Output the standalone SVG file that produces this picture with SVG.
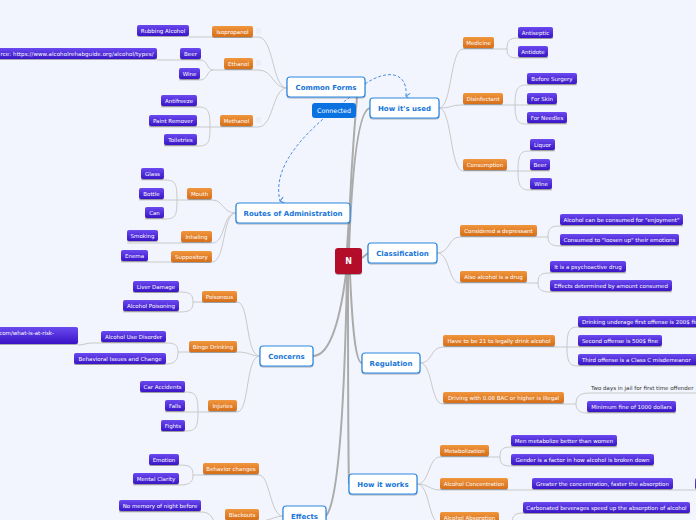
<svg xmlns="http://www.w3.org/2000/svg" width="696" height="520" viewBox="0 0 696 520">
<defs>
<linearGradient id="gp" x1="0" y1="0" x2="0" y2="1"><stop offset="0" stop-color="#6a4af0"/><stop offset="1" stop-color="#3a14c6"/></linearGradient>
<linearGradient id="go" x1="0" y1="0" x2="0" y2="1"><stop offset="0" stop-color="#f0963e"/><stop offset="1" stop-color="#d66e1a"/></linearGradient>
<filter id="sh" x="-20%" y="-30%" width="140%" height="180%"><feDropShadow dx="0" dy="1" stdDeviation="0.6" flood-color="#000" flood-opacity="0.3"/></filter>
<marker id="arr" markerWidth="8" markerHeight="8" refX="4" refY="6" orient="auto" markerUnits="userSpaceOnUse"><path d="M1,2 L4,6 L7,2" fill="none" stroke="#4a8fe0" stroke-width="1"/></marker>
</defs>
<style>
.bg{fill:#f2f5fd}
.m{fill:#fff;stroke:#2a88e0;stroke-width:1.2;filter:url(#sh)}
.mt{font-family:"DejaVu Sans",Verdana,sans-serif;font-weight:bold;font-size:7px;fill:#1675d8;text-anchor:middle}
.o{fill:url(#go);filter:url(#sh)}
.p{fill:url(#gp);filter:url(#sh)}
.t{font-family:"DejaVu Sans",Verdana,sans-serif;font-size:5.5px;fill:#fff;text-anchor:middle}
.d{font-family:"DejaVu Sans",Verdana,sans-serif;font-size:5.5px;fill:#333}
.c{fill:none;stroke:#c9c9c9;stroke-width:1}
.r{fill:none;stroke:#ababab;stroke-width:2}
.dash{fill:none;stroke:#4a8fe0;stroke-width:1;stroke-dasharray:3,2}
.ic{stroke:#dfe3ee;stroke-width:0.8}
</style>
<rect class="bg" x="0" y="0" width="696" height="520"/>

<g id="connectors">
<path class="r" d="M348,249 C350,190 355,120 357,97"/>
<path class="r" d="M349,249 C352,170 358,110 370,108"/>
<path class="r" d="M347,249 C348,232 349,218 350,213"/>
<path class="r" d="M362,258 L368,253"/>
<path class="r" d="M346,274 C340,320 330,356 313,356"/>
<path class="r" d="M350,274 C352,320 355,363 362,363"/>
<path class="r" d="M348,274 C348,360 348,450 349,484"/>
<path class="r" d="M347,274 C345,380 340,500 326,516"/>

<path class="c" d="M287,88 C272,88 274,37 258,37 L189,37"/>
<path class="c" d="M287,88 C272,88 274,70 258,70 L213,70"/>
<path class="c" d="M213,70 C207,70 208,60 200,60 L157,60"/>
<path class="c" d="M213,70 C207,70 208,80 200,80 L179,80"/>
<path class="c" d="M287,88 C272,88 274,127 258,127 L149,127"/>
<path class="c" d="M210,127 C210,110 208,107 197,107 L161,107"/>
<path class="c" d="M210,127 C210,144 208,146 197,146 L164,146"/>

<path class="c" d="M236,213 C222,213 224,200 212,200 L139,200"/>
<path class="c" d="M177,200 C177,182 175,180 164,180 L141,180"/>
<path class="c" d="M177,200 C177,217 175,219 164,219 L145,219"/>
<path class="c" d="M236,213 C222,213 226,243 212,243 L127,243"/>
<path class="c" d="M236,213 C222,213 226,262 212,262 L121,262"/>

<path class="c" d="M260,356 C245,356 250,302 237,302 L193,302"/>
<path class="c" d="M193,302 C193,294 190,292 179,292 L133,292"/>
<path class="c" d="M193,302 C193,310 190,312 179,312 L123,312"/>
<path class="c" d="M260,356 C250,356 250,352 237,352 L178,352"/>
<path class="c" d="M178,352 C178,345 175,343 166,343 L92,343 C86,343 84,345 78,345"/>
<path class="c" d="M178,352 C178,360 175,364 166,364 L74,364"/>
<path class="c" d="M260,356 C245,356 250,412 237,412 L165,412"/>
<path class="c" d="M198,412 C198,394 195,392 185,392 L140,392"/>
<path class="c" d="M198,412 C198,429 195,431 185,431 L161,431"/>

<path class="c" d="M283,516 C270,516 270,475 259,475 L193,475"/>
<path class="c" d="M193,475 C193,467 190,465 179,465 L149,465"/>
<path class="c" d="M193,475 C193,482 190,485 179,485 L133,485"/>
<path class="c" d="M283,516 C275,516 270,521 259,521 L225,521"/>
<path class="c" d="M119,512 L201,512 C209,512 212,516 214,522"/>

<path class="c" d="M439,108 C452,108 450,49 463,49 L507,49"/>
<path class="c" d="M507,49 C507,40 510,38 518,38 L553,38"/>
<path class="c" d="M507,49 C507,56 510,58 518,58 L548,58"/>
<path class="c" d="M439,108 C452,108 450,105 463,105 L557,105"/>
<path class="c" d="M515,105 C515,88 518,85 527,85 L577,85"/>
<path class="c" d="M515,105 C515,121 518,124 527,124 L567,124"/>
<path class="c" d="M439,108 C452,108 450,171 463,171 L550,171"/>
<path class="c" d="M518,171 C518,153 521,151 530,151 L555,151"/>
<path class="c" d="M518,171 C518,187 521,190 530,190 L552,190"/>

<path class="c" d="M437,253 C450,253 448,237 460,237 L548,237"/>
<path class="c" d="M548,237 C548,228 551,226 560,226 L683,226"/>
<path class="c" d="M548,237 C548,243 551,246 560,246 L679,246"/>
<path class="c" d="M437,253 C450,253 448,283 460,283 L538,283"/>
<path class="c" d="M538,283 C538,275 541,273 550,273 L626,273"/>
<path class="c" d="M538,283 C538,289 541,292 550,292 L672,292"/>

<path class="c" d="M420,363 C433,363 430,347 443,347 L662,347"/>
<path class="c" d="M567,347 C567,330 570,327 578,327 L696,327"/>
<path class="c" d="M567,347 C567,363 570,366 578,366 L696,366"/>
<path class="c" d="M420,363 C433,363 430,404 443,404 L576,404"/>
<path class="c" d="M576,404 C576,396 580,393 590,393 L696,393"/>
<path class="c" d="M576,404 C576,410 580,413 587,413 L676,413"/>

<path class="c" d="M417,484 C430,484 428,457 440,457 L500,457"/>
<path class="c" d="M500,457 C500,449 503,447 511,447 L617,447"/>
<path class="c" d="M500,457 C500,464 503,466 511,466 L654,466"/>
<path class="c" d="M417,484 C428,484 430,490 440,490 L696,490"/>
<path class="c" d="M417,484 C430,484 428,523 440,523 L512,523"/>
<path class="c" d="M512,523 C512,516 515,513 523,513 L690,513"/>

<path class="dash" d="M365,84 C385,70 408,70 406,96" marker-end="url(#arr)"/>
<path class="dash" d="M350,97 C318,122 270,160 280,201" marker-end="url(#arr)"/>
</g>

<g id="n-root"><rect x="335" y="248" width="27" height="26" rx="3" fill="#b40f2c" filter="url(#sh)"/><text x="348.5" y="264" font-family="DejaVu Sans,sans-serif" font-weight="bold" font-size="8" fill="#fff" text-anchor="middle">N</text></g>

<g id="n-connected"><rect x="312" y="103" width="44" height="15" rx="3" fill="#0a72e0"/><text x="334" y="112.8" font-family="DejaVu Sans,sans-serif" font-size="6.3" fill="#fff" text-anchor="middle">Connected</text></g>

<g id="n-cf"><rect class="m" x="287" y="77" width="78" height="20" rx="3"/><text class="mt" x="326" y="89.5">Common Forms</text></g>
<g id="n-iso"><rect class="o" x="212" y="26" width="41" height="11" rx="2"/><text class="t" x="232.5" y="33.5">Isopropanol</text><path class="ic" d="M256,29h5M256,31h5M256,33h5"/></g>
<g id="n-eth"><rect class="o" x="224" y="58" width="29" height="11" rx="2"/><text class="t" x="238.5" y="65.5">Ethanol</text><path class="ic" d="M256,61h5M256,63h5M256,65h5"/></g>
<g id="n-meth"><rect class="o" x="220" y="115" width="33" height="11" rx="2"/><text class="t" x="236.5" y="122.5">Methanol</text><path class="ic" d="M256,118h5M256,120h5M256,122h5"/></g>
<g id="n-rub"><rect class="p" x="137" y="25" width="52" height="11" rx="2"/><text class="t" x="163" y="32.5">Rubbing Alcohol</text></g>
<g id="n-beer1"><rect class="p" x="180" y="48" width="21" height="11" rx="2"/><text class="t" x="190.5" y="55.5">Beer</text></g>
<g id="n-wine1"><rect class="p" x="179" y="68" width="21" height="11" rx="2"/><text class="t" x="189.5" y="75.5">Wine</text></g>
<g id="n-src1"><rect class="p" x="-30" y="48" width="187" height="11" rx="2"/><text class="t" x="0.5" y="55.5" textLength="153" style="text-anchor:start">rce: https://www.alcoholrehabguide.org/alcohol/types/</text></g>
<g id="n-anti"><rect class="p" x="161" y="95" width="36" height="11" rx="2"/><text class="t" x="179" y="102.5">Antifreeze</text></g>
<g id="n-paint"><rect class="p" x="149" y="115" width="48" height="11" rx="2"/><text class="t" x="173" y="122.5">Paint Remover</text></g>
<g id="n-toil"><rect class="p" x="164" y="134" width="33" height="11" rx="2"/><text class="t" x="180.5" y="141.5">Toiletries</text></g>

<g id="n-hu"><rect class="m" x="370" y="98" width="69" height="20" rx="3"/><text class="mt" x="404.5" y="110.5">How it's used</text></g>
<g id="n-med"><rect class="o" x="463" y="37" width="31" height="11" rx="2"/><text class="t" x="478.5" y="44.5">Medicine</text></g>
<g id="n-dis"><rect class="o" x="463" y="93" width="40" height="11" rx="2"/><text class="t" x="483" y="100.5">Disinfectant</text></g>
<g id="n-cons"><rect class="o" x="463" y="159" width="44" height="11" rx="2"/><text class="t" x="485" y="166.5">Consumption</text></g>
<g id="n-antis"><rect class="p" x="518" y="27" width="35" height="11" rx="2"/><text class="t" x="535.5" y="34.5">Antiseptic</text></g>
<g id="n-antid"><rect class="p" x="518" y="46" width="30" height="11" rx="2"/><text class="t" x="533" y="53.5">Antidote</text></g>
<g id="n-bs"><rect class="p" x="527" y="73" width="50" height="11" rx="2"/><text class="t" x="552" y="80.5">Before Surgery</text></g>
<g id="n-fs"><rect class="p" x="527" y="93" width="30" height="11" rx="2"/><text class="t" x="542" y="100.5">For Skin</text></g>
<g id="n-fn"><rect class="p" x="527" y="112" width="40" height="11" rx="2"/><text class="t" x="547" y="119.5">For Needles</text></g>
<g id="n-liq"><rect class="p" x="530" y="139" width="25" height="11" rx="2"/><text class="t" x="542.5" y="146.5">Liquor</text></g>
<g id="n-beer2"><rect class="p" x="530" y="159" width="20" height="11" rx="2"/><text class="t" x="540" y="166.5">Beer</text></g>
<g id="n-wine2"><rect class="p" x="530" y="178" width="22" height="11" rx="2"/><text class="t" x="541" y="185.5">Wine</text></g>

<g id="n-ra"><rect class="m" x="236" y="203" width="114" height="20" rx="3"/><text class="mt" x="293" y="215.5">Routes of Administration</text></g>
<g id="n-mouth"><rect class="o" x="187" y="188" width="25" height="11" rx="2"/><text class="t" x="199.5" y="195.5">Mouth</text></g>
<g id="n-inh"><rect class="o" x="181" y="231" width="31" height="11" rx="2"/><text class="t" x="196.5" y="238.5">Inhaling</text></g>
<g id="n-sup"><rect class="o" x="171" y="251" width="41" height="11" rx="2"/><text class="t" x="191.5" y="258.5">Suppository</text></g>
<g id="n-glass"><rect class="p" x="141" y="168" width="23" height="11" rx="2"/><text class="t" x="152.5" y="175.5">Glass</text></g>
<g id="n-bottle"><rect class="p" x="139" y="188" width="25" height="11" rx="2"/><text class="t" x="151.5" y="195.5">Bottle</text></g>
<g id="n-can"><rect class="p" x="145" y="207" width="19" height="11" rx="2"/><text class="t" x="154.5" y="214.5">Can</text></g>
<g id="n-smoke"><rect class="p" x="127" y="230" width="31" height="11" rx="2"/><text class="t" x="142.5" y="237.5">Smoking</text></g>
<g id="n-enema"><rect class="p" x="121" y="250" width="27" height="11" rx="2"/><text class="t" x="134.5" y="257.5">Enema</text></g>

<g id="n-cl"><rect class="m" x="368" y="243" width="69" height="20" rx="3"/><text class="mt" x="402.5" y="255.5">Classification</text></g>
<g id="n-dep"><rect class="o" x="460" y="225" width="77" height="11" rx="2"/><text class="t" x="498.5" y="232.5">Considered a depressant</text></g>
<g id="n-drug"><rect class="o" x="460" y="271" width="67" height="11" rx="2"/><text class="t" x="493.5" y="278.5">Also alcohol is a drug</text></g>
<g id="n-enj"><rect class="p" x="560" y="214" width="123" height="11" rx="2"/><text class="t" x="621.5" y="221.5">Alcohol can be consumed for "enjoyment"</text></g>
<g id="n-loose"><rect class="p" x="560" y="234" width="119" height="11" rx="2"/><text class="t" x="619.5" y="241.5">Consumed to "loosen up" their emotions</text></g>
<g id="n-psy"><rect class="p" x="550" y="261" width="76" height="11" rx="2"/><text class="t" x="588" y="268.5">It is a psychoactive drug</text></g>
<g id="n-effd"><rect class="p" x="550" y="280" width="122" height="11" rx="2"/><text class="t" x="611" y="287.5">Effects determined by amount consumed</text></g>

<g id="n-con"><rect class="m" x="260" y="346" width="53" height="20" rx="3"/><text class="mt" x="286.5" y="358.5">Concerns</text></g>
<g id="n-poi"><rect class="o" x="202" y="291" width="35" height="11" rx="2"/><text class="t" x="219.5" y="298.5">Poisonous</text></g>
<g id="n-binge"><rect class="o" x="189" y="341" width="48" height="11" rx="2"/><text class="t" x="213" y="348.5">Binge Drinking</text></g>
<g id="n-inj"><rect class="o" x="208" y="400" width="29" height="11" rx="2"/><text class="t" x="222.5" y="407.5">Injuries</text></g>
<g id="n-liver"><rect class="p" x="133" y="281" width="46" height="11" rx="2"/><text class="t" x="156" y="288.5">Liver Damage</text></g>
<g id="n-apois"><rect class="p" x="123" y="300" width="56" height="11" rx="2"/><text class="t" x="151" y="307.5">Alcohol Poisoning</text></g>
<g id="n-aud"><rect class="p" x="101" y="331" width="65" height="11" rx="2"/><text class="t" x="133.5" y="338.5">Alcohol Use Disorder</text></g>
<g id="n-beh"><rect class="p" x="74" y="353" width="92" height="11" rx="2"/><text class="t" x="120" y="360.5">Behavioral Issues and Change</text></g>
<g id="n-src2"><rect class="p" x="-20" y="327" width="98" height="17" rx="2"/><text class="t" x="54" y="334.5" style="text-anchor:end">com/what-is-at-risk-</text></g>
<g id="n-car"><rect class="p" x="140" y="381" width="45" height="11" rx="2"/><text class="t" x="162.5" y="388.5">Car Accidents</text></g>
<g id="n-falls"><rect class="p" x="165" y="400" width="20" height="11" rx="2"/><text class="t" x="175" y="407.5">Falls</text></g>
<g id="n-fights"><rect class="p" x="161" y="420" width="24" height="11" rx="2"/><text class="t" x="173" y="427.5">Fights</text></g>

<g id="n-reg"><rect class="m" x="362" y="353" width="58" height="20" rx="3"/><text class="mt" x="391" y="365.5">Regulation</text></g>
<g id="n-21"><rect class="o" x="443" y="335" width="112" height="11" rx="2"/><text class="t" x="499" y="342.5">Have to be 21 to legally drink alcohol</text></g>
<g id="n-drv"><rect class="o" x="443" y="392" width="121" height="11" rx="2"/><text class="t" x="503.5" y="399.5">Driving with 0.08 BAC or higher is illegal</text></g>
<g id="n-under"><rect class="p" x="578" y="316" width="140" height="11" rx="2"/><text class="t" x="582" y="323.5" style="text-anchor:start">Drinking underage first offense is 200$ fine</text></g>
<g id="n-second"><rect class="p" x="578" y="335" width="84" height="11" rx="2"/><text class="t" x="620" y="342.5">Second offense is 500$ fine</text></g>
<g id="n-third"><rect class="p" x="578" y="354" width="140" height="11" rx="2"/><text class="t" x="582" y="361.5" style="text-anchor:start">Third offense is a Class C misdemeanor</text></g>
<g id="n-twodays"><text class="d" x="591" y="390">Two days in jail for first time offender</text></g>
<g id="n-minfine"><rect class="p" x="587" y="401" width="89" height="11" rx="2"/><text class="t" x="631.5" y="408.5">Minimum fine of 1000 dollars</text></g>

<g id="n-hw"><rect class="m" x="349" y="474" width="68" height="20" rx="3"/><text class="mt" x="383" y="486.5">How it works</text></g>
<g id="n-metab"><rect class="o" x="440" y="445" width="49" height="11" rx="2"/><text class="t" x="464.5" y="452.5">Metabolization</text></g>
<g id="n-conc"><rect class="o" x="440" y="478" width="68" height="11" rx="2"/><text class="t" x="474" y="485.5">Alcohol Concentration</text></g>
<g id="n-abs"><rect class="o" x="440" y="512" width="59" height="11" rx="2"/><text class="t" x="469.5" y="519.5">Alcohol Absorption</text></g>
<g id="n-men"><rect class="p" x="511" y="435" width="106" height="11" rx="2"/><text class="t" x="564" y="442.5">Men metabolize better than women</text></g>
<g id="n-gender"><rect class="p" x="511" y="454" width="143" height="11" rx="2"/><text class="t" x="582.5" y="461.5">Gender is a factor in how alcohol is broken down</text></g>
<g id="n-greater"><rect class="p" x="532" y="478" width="141" height="11" rx="2"/><text class="t" x="602.5" y="485.5">Greater the concentration, faster the absorption</text></g>
<g id="n-edge"><rect class="p" x="695" y="478" width="30" height="11" rx="2"/></g>
<g id="n-carb"><rect class="p" x="523" y="502" width="167" height="11" rx="2"/><text class="t" x="606.5" y="509.5">Carbonated beverages speed up the absorption of alcohol</text></g>

<g id="n-effects"><rect class="m" x="283" y="506" width="43" height="20" rx="3"/><text class="mt" x="304.5" y="518.5">Effects</text></g>
<g id="n-behc"><rect class="o" x="203" y="463" width="56" height="11" rx="2"/><text class="t" x="231" y="470.5">Behavior changes</text></g>
<g id="n-black"><rect class="o" x="225" y="509" width="34" height="11" rx="2"/><text class="t" x="242" y="516.5">Blackouts</text></g>
<g id="n-emo"><rect class="p" x="149" y="454" width="30" height="11" rx="2"/><text class="t" x="164" y="461.5">Emotion</text></g>
<g id="n-mc"><rect class="p" x="133" y="473" width="46" height="11" rx="2"/><text class="t" x="156" y="480.5">Mental Clarity</text></g>
<g id="n-nomem"><rect class="p" x="119" y="500" width="82" height="11" rx="2"/><text class="t" x="160" y="507.5">No memory of night before</text></g>
</svg>
